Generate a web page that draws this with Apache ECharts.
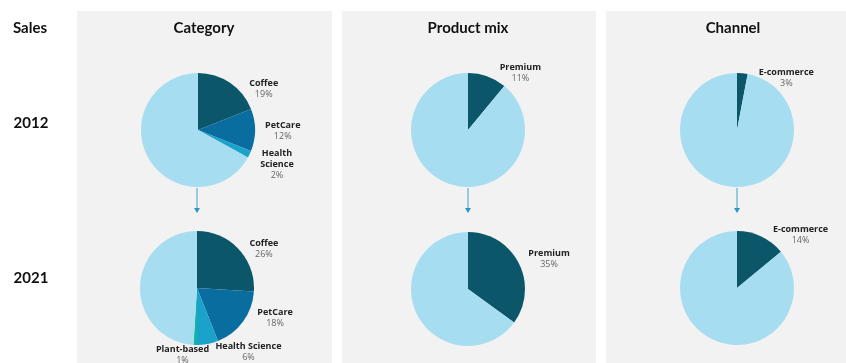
<!DOCTYPE html>
<html>
<head>
<meta charset="utf-8">
<script src="https://cdn.jsdelivr.net/npm/echarts@6/dist/echarts.min.js"></script>
<style>
  html, body { margin: 0; padding: 0; background: #fff; }
  #chart { width: 846px; height: 363px; }
</style>
</head>
<body>
<div id="chart"></div>
<script>
// sales mix, share of total (%)
const years = ['2012', '2021']
const panels = ['Category', 'Product mix', 'Channel']

const category2012 = [
  { name: 'Coffee', value: 19 },
  { name: 'PetCare', value: 12 },
  { name: 'Health Science', value: 2 },
  { name: 'Other', value: 67 },
]
const category2021 = [
  { name: 'Coffee', value: 26 },
  { name: 'PetCare', value: 18 },
  { name: 'Health Science', value: 6 },
  { name: 'Plant-based', value: 1 },
  { name: 'Other', value: 49 },
]
const premium2012 = [
  { name: 'Premium', value: 11 },
  { name: 'Other', value: 89 },
]
const premium2021 = [
  { name: 'Premium', value: 35 },
  { name: 'Other', value: 65 },
]
const ecommerce2012 = [
  { name: 'E-commerce', value: 3 },
  { name: 'Other', value: 97 },
]
const ecommerce2021 = [
  { name: 'E-commerce', value: 14 },
  { name: 'Other', value: 86 },
]

const sliceColors = {
  'Coffee': '#0b5668',
  'PetCare': '#0a6d9f',
  'Health Science': '#1aa2cb',
  'Plant-based': '#13b4a8',
  'Premium': '#0b5668',
  'E-commerce': '#0b5668',
  'Other': '#a7ddf0',
}

const FONT = '"Open Sans", sans-serif'
const R = 57

// small label nudges so the text sits like in the slide
// (labelLayout params carry dataIndex, not the name)
function nudge(data, map) {
  return p => {
    const n = map[data[p.dataIndex].name]
    return n ? { dx: n[0], dy: n[1] } : {}
  }
}

const richStyle = {
  n: { fontFamily: FONT, fontSize: 9, fontWeight: 'bold', color: '#222', align: 'center', lineHeight: 11 },
  p: { fontFamily: FONT, fontSize: 9, color: '#666', align: 'center', lineHeight: 11 },
}

function pie(data, center, nudges, extra) {
  return Object.assign({
    type: 'pie',
    center: center,
    radius: R,
    startAngle: 90,
    silent: true,
    avoidLabelOverlap: false,
    label: {
      position: 'outside',
      formatter: '{n|{b}}\n{p|{d}%}',
      rich: richStyle,
    },
    labelLine: { show: false, length: 4, length2: 6 },
    labelLayout: nudge(data, nudges || {}),
    data: data.map(d => ({
      name: d.name,
      value: d.value,
      itemStyle: { color: sliceColors[d.name] },
      label: { show: d.name !== 'Other' },
    })),
  }, extra || {})
}

const chart = echarts.init(document.getElementById('chart'), null, { renderer: 'canvas' })

const titleStyle = { fontFamily: 'Lato, sans-serif', fontSize: 15, fontWeight: 'bold', fill: '#111' }
const panelX = [[77, 332], [342, 596], [606, 846]]
const titleX = [204, 468, 733]
const colX = [197, 468, 737]

const graphics = []
panelX.forEach(([a, b], i) => {
  graphics.push({ type: 'rect', z: -10, shape: { x: a, y: 11, width: b - a, height: 352 }, style: { fill: '#f2f2f2' } })
  graphics.push({ type: 'text', style: Object.assign({ text: panels[i], x: titleX[i], y: 28, align: 'center', verticalAlign: 'middle' }, titleStyle) })
  // arrow between the two years
  graphics.push({ type: 'line', shape: { x1: colX[i], y1: 188, x2: colX[i], y2: 210 }, style: { stroke: '#3aa3cf', lineWidth: 1 } })
  graphics.push({ type: 'polygon', shape: { points: [[colX[i] - 3, 208], [colX[i] + 3, 208], [colX[i], 213]] }, style: { fill: '#2d96c4' } })
})
graphics.push({ type: 'text', style: Object.assign({ text: 'Sales', x: 30, y: 28, align: 'center', verticalAlign: 'middle' }, titleStyle) })
years.forEach((y, i) => {
  graphics.push({ type: 'text', style: Object.assign({ text: y, x: 31, y: i ? 278 : 123, align: 'center', verticalAlign: 'middle' }, titleStyle) })
})

chart.setOption({
  animation: false,
  graphic: graphics,
  series: [
    pie(category2012, [198, 130], { 'Coffee': [6, 9], 'PetCare': [-5, 1], 'Health Science': [-4, 8] }, {
      label: {
        position: 'outside',
        rich: richStyle,
        formatter: p => p.name === 'Health Science'
          ? '{n|Health}\n{n|Science}\n{p|' + p.percent + '%}'
          : '{n|' + p.name + '}\n{p|' + p.percent + '%}',
      },
    }),
    pie(category2021, [197, 288], { 'Coffee': [-3, 3], 'PetCare': [0, -6], 'Health Science': [-4, 4], 'Plant-based': [25, 6] }),
    pie(premium2012, [468, 130]),
    pie(premium2021, [468, 289], { 'Premium': [-5, -2] }),
    pie(ecommerce2012, [737, 130], { 'E-commerce': [5, 9] }),
    pie(ecommerce2021, [737, 288], { 'E-commerce': [-1, 2] }),
  ],
})
</script>
</body>
</html>
